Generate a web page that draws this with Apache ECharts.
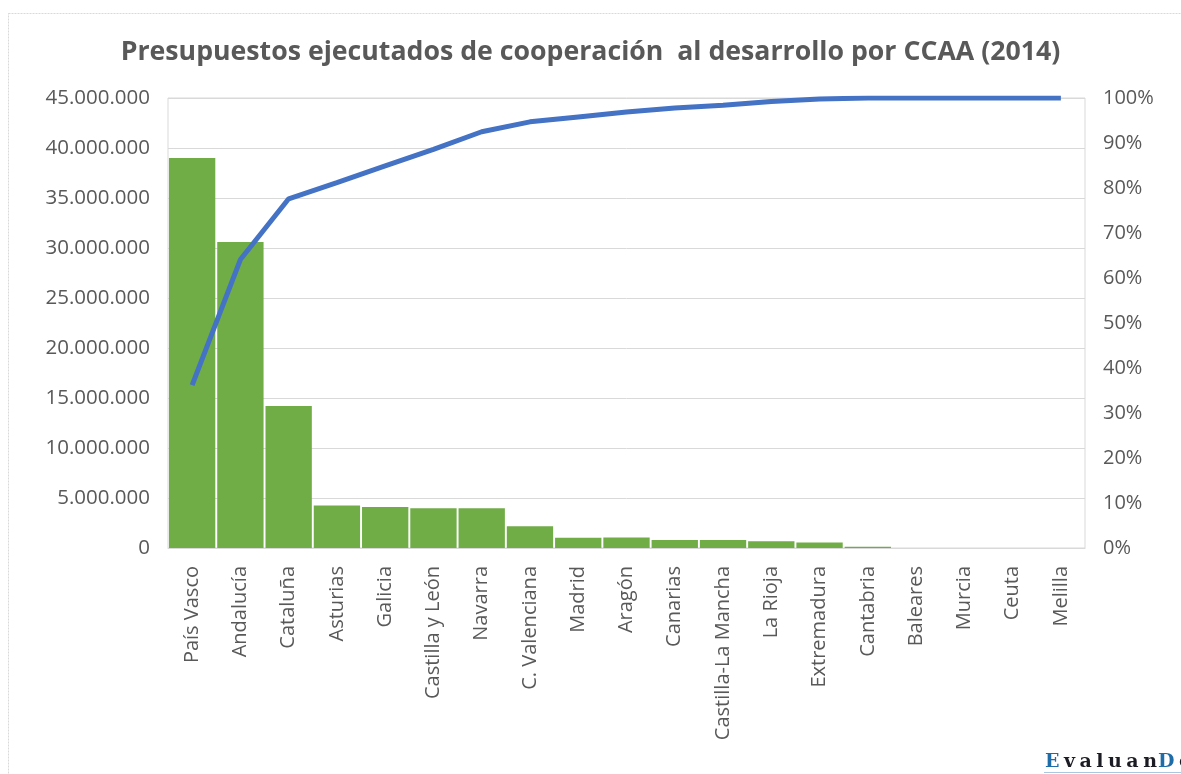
<!DOCTYPE html>
<html>
<head>
<meta charset="utf-8">
<script src="https://cdn.jsdelivr.net/npm/echarts@6/dist/echarts.min.js"></script>
<style>
html,body{margin:0;padding:0;background:#fff;}
#c{width:1181px;height:774px;}
</style>
</head>
<body>
<div id="c"></div>
<script>
const titleText = 'Presupuestos ejecutados de cooperación  al desarrollo por CCAA (2014)';
const categories = ['País Vasco','Andalucía','Cataluña','Asturias','Galicia','Castilla y León','Navarra','C. Valenciana','Madrid','Aragón','Canarias','Castilla-La Mancha','La Rioja','Extremadura','Cantabria','Baleares','Murcia','Ceuta','Melilla'];
const presupuesto = [39000000,30600000,14200000,4250000,4100000,3980000,3980000,2180000,1030000,1040000,810000,800000,670000,540000,130000,0,0,0,0];
const acumulado = [36.2,64.1,77.6,81.2,84.9,88.6,92.5,94.7,95.8,96.9,97.8,98.4,99.2,99.8,100,100,100,100,100];
const leftTicks = {min:0, max:45000000, interval:5000000};
const rightTicks = {min:0, max:100, interval:10};
const watermark = 'EvaluanDo';

const FONT = '"Open Sans", Lato, sans-serif';
const SERIF = '"DejaVu Serif", "Liberation Serif", serif';
const chart = echarts.init(document.getElementById('c'), null, {renderer:'canvas'});
function fmtThousands(v){
  return String(Math.round(v)).replace(/\B(?=(\d{3})+(?!\d))/g,'.');
}
// watermark letters laid out with letter spacing
const mctx = document.createElement('canvas').getContext('2d');
mctx.font = 'bold 19px ' + SERIF;
const wmEls = [];
let wx = 1045;
for (let i = 0; i < watermark.length; i++) {
  const ch = watermark[i];
  const cap = (ch === 'E' || ch === 'D');
  wmEls.push({type:'text', x:wx, y:753, silent:true, style:{
    text:ch, font:'bold 19px ' + SERIF, fill: cap ? '#1f6da8' : '#1c1c24', textVerticalAlign:'top'
  }});
  wx += mctx.measureText(ch).width + (ch === 'n' ? 1 : 4.5);
}

chart.setOption({
  animation:false,
  backgroundColor:'#fff',
  title:{
    text:titleText,
    left:'center', top:34,
    textStyle:{fontFamily:FONT, fontSize:26.7, fontWeight:'bold', color:'#595959'}
  },
  graphic:[
    {type:'rect', shape:{x:8.5,y:13.5,width:1200,height:800}, style:{fill:'none', stroke:'#d9d9d9', lineWidth:1, lineDash:[2,1]}, silent:true},
    {type:'line', shape:{x1:1044,y1:772.5,x2:1181,y2:772.5}, style:{stroke:'#a9c8e0', lineWidth:1}, silent:true}
  ].concat(wmEls),
  grid:{left:168, right:96, top:98, bottom:226, show:true, borderColor:'#d9d9d9', borderWidth:1, backgroundColor:'transparent'},
  xAxis:{
    type:'category', data:categories,
    axisLine:{show:true, lineStyle:{color:'#d9d9d9'}},
    axisTick:{show:false},
    axisLabel:{rotate:90, interval:0, margin:18, fontFamily:FONT, fontSize:20, color:'#595959'}
  },
  yAxis:[
    {type:'value', min:leftTicks.min, max:leftTicks.max, interval:leftTicks.interval,
     axisLine:{show:false}, axisTick:{show:false},
     splitLine:{lineStyle:{color:'#d9d9d9', width:1}},
     axisLabel:{margin:18, fontFamily:FONT, fontSize:20.5, color:'#595959', formatter:fmtThousands}},
    {type:'value', min:rightTicks.min, max:rightTicks.max, interval:rightTicks.interval,
     axisLine:{show:false}, axisTick:{show:false}, splitLine:{show:false},
     axisLabel:{margin:18, fontFamily:FONT, fontSize:20, color:'#595959', formatter:v=>v+'%'}}
  ],
  series:[
    {type:'bar', data:presupuesto, barCategoryGap:'4%', itemStyle:{color:'#70ad47'}, z:2},
    {type:'line', yAxisIndex:1, data:acumulado, symbol:'none', lineStyle:{color:'#4472c4', width:5}, z:3}
  ]
});
</script>
</body>
</html>
